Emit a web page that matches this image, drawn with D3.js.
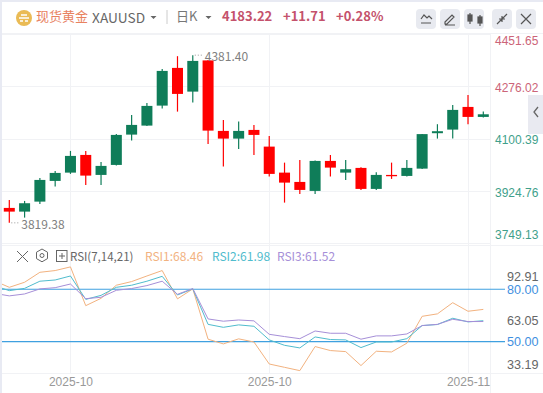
<!DOCTYPE html>
<html>
<head>
<meta charset="utf-8">
<script src="https://cdn.jsdelivr.net/npm/d3@7"></script>
<style>
html, body { margin: 0; padding: 0; background: #fff; overflow: hidden; }
svg { display: block; font-family: "Noto Sans CJK SC", "Noto Sans", sans-serif; }
</style>
</head>
<body>
<svg width="543" height="393"></svg>
<script>
// candles
var opens  = [3869.4,3857,3890.5,3959.9,3987.7,4047,3980,4013.5,4115.1,4145.3,4212.3,4338.7,4259.2,4363.8,4127.5,4101.7,4130.8,4074.9,3987.7,3956.5,3926.4,4026.9,3987.7,4003.5,3933.1,3980,3976.6,4001.1,4119.8,4131.9,4207.9,4174.4];
var highs  = [3896.2,3892.8,3969.9,3993.4,4060.4,4060.4,4023.6,4117.4,4181.1,4221.3,4335.3,4378,4381.4,4365.5,4164.4,4158.7,4147.6,4110.7,4021.2,4030.3,4028.6,4047,4030.3,4005.8,3989,4021.2,4030.3,4117.4,4150,4214.6,4248.2,4192.2];
var lows   = [3819.38,3836.9,3882.8,3940.8,3983.4,3946.5,3946.5,4011.2,4095,4144.2,4202.2,4192.2,4222.4,4083.9,4007.8,4067.2,4047,3974.3,3887.2,3916.3,3916.3,3974.3,3963.2,3929.7,3929.7,3966.6,3975,4000.1,4101.7,4101.7,4150,4172.7];
var closes = [3857,3885.1,3963.2,3986.7,4043.7,3977.7,4010.2,4114.1,4147.6,4211.3,4328.6,4251.5,4362.1,4128.5,4101.7,4127.5,4114.1,3983.4,3954.2,3929.7,4026.9,4004.5,3999.1,3933.1,3980,3975.6,4003.5,4116.8,4126.5,4197.9,4174.4,4183.22];

// RSI lines start one bar before the first visible candle
var rsi1 = [84.9,81.1,84,89.7,90.7,92.8,70.6,74.8,82.3,84.4,87.6,90.7,74.5,80.2,51.4,48.7,51.6,49.8,37.2,35.3,33.4,47.2,44.9,44.3,36.3,44.5,44.1,49.1,64.5,65.9,72.3,67.4,68.46];
var rsi2 = [82.1,79.2,80.5,84.6,85.3,87.6,74.2,76.5,81.1,82.3,84.6,87.4,76.7,80.2,59.9,58.2,59.6,58.8,51,47.9,46.4,52.7,51.2,51,46.6,49.8,49.8,51.7,59.2,59.8,63.4,61.3,61.98];
var rsi3 = [77.7,76.2,77.3,80.2,80.9,83,74.6,75.4,79.4,80.4,82.1,84.6,77.1,80.4,63,61.7,62.4,61.9,54.2,52.9,51.7,56.1,54.8,54.8,51.4,53.3,53.3,54.4,59.2,59.9,62.8,61.5,61.52];

var priceTicks = [4451.65,4276.02,4100.39,3924.76,3749.13];
var rsiTicks = [92.91,63.05,33.19];
var rsiLevels = [80,50];
var dateTicks = [4,17,30];
var dateLabels = ["2025-10","2025-10","2025-11"];

var green = "#0f7d59", red = "#ff0000";
var svg = d3.select("svg");

var x = d3.scaleLinear().domain([0, 31]).range([9.3, 483.3]);
var y = d3.scaleLinear().domain([3749.13, 4451.65]).range([243.8, 34.2]);
var yr = d3.scaleLinear().domain([33.19, 92.91]).range([371, 266.7]);

// page edge
svg.append("rect").attr("width", 543).attr("height", 393).attr("fill", "#fff");
svg.append("rect").attr("width", 2).attr("height", 393).attr("fill", "#e8eaf3");
svg.append("rect").attr("width", 543).attr("height", 2).attr("fill", "#e8eaf3");

// grid
var grid = svg.append("g").attr("stroke", "#f1f2f5").attr("stroke-width", 1).attr("shape-rendering", "crispEdges");
grid.selectAll(".h").data(priceTicks).enter().append("line").attr("x1", 2).attr("x2", 490)
    .attr("y1", function(d){ return y(d); }).attr("y2", function(d){ return y(d); });
grid.selectAll(".v").data(dateTicks).enter().append("line").attr("y1", 33).attr("y2", 373)
    .attr("x1", function(d){ return x(d); }).attr("x2", function(d){ return x(d); });
grid.append("line").attr("x1", 2).attr("x2", 543).attr("y1", 33).attr("y2", 33);
grid.append("line").attr("x1", 2).attr("x2", 543).attr("y1", 373).attr("y2", 373);
grid.append("line").attr("x1", 2).attr("x2", 543).attr("y1", 245).attr("y2", 245);
grid.append("line").attr("x1", 490).attr("x2", 490).attr("y1", 33).attr("y2", 393);

// candles
var c = svg.append("g").selectAll("g").data(d3.range(opens.length)).enter().append("g")
    .attr("fill", function(i){ return closes[i] >= opens[i] ? green : red; })
    .attr("stroke", function(i){ return closes[i] >= opens[i] ? green : red; });
c.append("line").attr("stroke-width", 1.2)
    .attr("x1", function(i){ return x(i); }).attr("x2", function(i){ return x(i); })
    .attr("y1", function(i){ return y(highs[i]); }).attr("y2", function(i){ return y(lows[i]); });
c.append("rect").attr("stroke", "none").attr("width", 11)
    .attr("x", function(i){ return x(i) - 5.5; })
    .attr("y", function(i){ return y(Math.max(opens[i], closes[i])); })
    .attr("height", function(i){ return Math.max(1, Math.abs(y(opens[i]) - y(closes[i]))); });

// high and low notes
var hi = d3.max(highs), lo = d3.min(lows);
var notes = [[highs.indexOf(hi), hi], [lows.indexOf(lo), lo]];
svg.append("g").selectAll("text").data(notes).enter().append("text")
    .attr("x", function(d){ return x(d[0]) + 12; })
    .attr("y", function(d){ return y(d[1]) + 6; })
    .attr("font-size", 12).attr("fill", "#808080")
    .text(function(d){ return d[1].toFixed(2); });
svg.append("g").selectAll("line").data(notes).enter().append("line")
    .attr("x1", function(d){ return x(d[0]) + 2; }).attr("x2", function(d){ return x(d[0]) + 11; })
    .attr("y1", function(d){ return y(d[1]); }).attr("y2", function(d){ return y(d[1]); })
    .attr("stroke", "#999").attr("stroke-dasharray", "1,2");

// side handle
svg.append("rect").attr("x", 528).attr("y", 95).attr("width", 15).attr("height", 39).attr("fill", "#e9eaf1");
svg.append("path").attr("d", "M538 107l-4 5 4 5").attr("fill", "none").attr("stroke", "#666").attr("stroke-width", 1.3);

// price axis, the labels at the ends sit inside the pane
var priceAxis = svg.append("g").attr("transform", "translate(490,0)")
    .call(d3.axisRight(y).tickValues(priceTicks).tickSize(0).tickPadding(5).tickFormat(d3.format(".2f")));
priceAxis.select(".domain").remove();
priceAxis.selectAll(".tick").attr("transform", function(d){
    return "translate(0," + Math.min(235, Math.max(41, y(d) + 1.5)) + ")";
});
priceAxis.selectAll("text").attr("font-family", "inherit").attr("font-size", 12)
    .attr("fill", function(d){ return d >= 4183.22 ? "#cc6478" : "#3f9f8b"; });

// RSI levels
svg.append("g").selectAll("line").data(rsiLevels).enter().append("line")
    .attr("x1", 2).attr("x2", 505)
    .attr("y1", function(d){ return yr(d); }).attr("y2", function(d){ return yr(d); })
    .attr("stroke", "#3fa0e0").attr("stroke-width", 1.2);

// RSI lines
var line = d3.line().x(function(d, i){ return x(i - 1); }).y(function(d){ return yr(d); });
svg.append("clipPath").attr("id", "pane").append("rect").attr("x", 2).attr("y", 245).attr("width", 488).attr("height", 128);
var rsiSeries = [[rsi1, "#f2b27f"], [rsi2, "#50bccd"], [rsi3, "#a68fd8"]];
svg.append("g").attr("clip-path", "url(#pane)").selectAll("path").data(rsiSeries).enter().append("path")
    .attr("d", function(d){ return line(d[0]); })
    .attr("fill", "none").attr("stroke", function(d){ return d[1]; }).attr("stroke-width", 1);

// RSI axis
var rsiAxis = svg.append("g").attr("transform", "translate(500,0)")
    .call(d3.axisRight(yr).tickValues(rsiTicks).tickSize(0).tickPadding(7).tickFormat(d3.format(".2f")));
rsiAxis.select(".domain").remove();
rsiAxis.selectAll(".tick").attr("transform", function(d){
    return "translate(0," + Math.min(365, Math.max(277, yr(d) + 2.5)) + ")";
});
rsiAxis.selectAll("text").attr("font-family", "inherit").attr("font-size", 12.6).attr("fill", "#666");
var levelAxis = svg.append("g").attr("transform", "translate(500,0)")
    .call(d3.axisRight(yr).tickValues(rsiLevels).tickSize(0).tickPadding(7).tickFormat(d3.format(".2f")));
levelAxis.select(".domain").remove();
levelAxis.selectAll("text").attr("font-family", "inherit").attr("font-size", 12.6).attr("fill", "#3f8fe0");

// date axis
var dateAxis = svg.append("g").attr("transform", "translate(0,374)")
    .call(d3.axisBottom(x).tickValues(dateTicks).tickSize(0).tickPadding(3)
        .tickFormat(function(d, i){ return dateLabels[i]; }));
dateAxis.select(".domain").remove();
dateAxis.selectAll("text").attr("font-family", "inherit").attr("font-size", 12).attr("fill", "#999");

// header
function label(tx, ty, str, size, fill, weight) {
    return svg.append("text").attr("x", tx).attr("y", ty).attr("font-size", size)
        .attr("fill", fill).attr("font-weight", weight || 400).text(str);
}
svg.append("circle").attr("cx", 24).attr("cy", 18).attr("r", 8).attr("fill", "#eabb55");
svg.append("path").attr("d", "M19 18h10M21 15h6M20 21h3M25 21h3").attr("stroke", "#fff").attr("stroke-width", 1.5);
label(36, 21, "现货黄金", 13, "#e8825f");
label(92, 23, "XAUUSD", 13.7, "#666");
label(176, 21, "日K", 13, "#777");
label(222, 21, "4183.22", 13, "#c4526c", 700);
label(283, 21, "+11.71", 13, "#c4526c", 700);
label(336, 21, "+0.28%", 13, "#c4526c", 700);
svg.append("path").attr("d", "M150.5 16h6l-3 3zM205.5 16h6l-3 3z").attr("fill", "#666");
svg.append("line").attr("x1", 167).attr("x2", 167).attr("y1", 10).attr("y2", 24).attr("stroke", "#ccc");

// toolbar buttons
var buttons = [416, 440, 464, 492, 516];
svg.append("g").selectAll("rect").data(buttons).enter().append("rect")
    .attr("x", function(d){ return d; }).attr("y", 9).attr("width", 20).attr("height", 20).attr("rx", 4)
    .attr("fill", "#e8eaf0");
var ic = svg.append("g").attr("fill", "none").attr("stroke", "#555").attr("stroke-width", 1.2);
ic.append("path").attr("d", "M421 19l3-4 3 3 2-2 3 3M421 23h10");
ic.append("path").attr("d", "M445 22l7-7 2 2-7 7h-2zM445 25h10");
ic.append("path").attr("d", "M470 13v11M480 15v11");
ic.append("rect").attr("x", 468).attr("y", 15).attr("width", 4).attr("height", 6).attr("fill", "#555");
ic.append("rect").attr("x", 478).attr("y", 17).attr("width", 4).attr("height", 6).attr("fill", "#555");
ic.append("path").attr("d", "M497 24l5-5M507 14l-5 5M499 19h3v3M505 19h-3v-3");
ic.append("path").attr("d", "M521 14l10 10M531 14l-10 10");

// RSI legend
var tools = svg.append("g").attr("fill", "none").attr("stroke", "#666").attr("stroke-width", 1);
tools.append("path").attr("d", "M17 251l11 11M28 251l-11 11");
tools.append("path").attr("d", "M42 249l5.5 3.2v6.4l-5.5 3.2-5.5-3.2v-6.4z");
tools.append("circle").attr("cx", 42).attr("cy", 255.5).attr("r", 2);
tools.append("rect").attr("x", 56.5).attr("y", 250.5).attr("width", 10.5).attr("height", 11);
tools.append("path").attr("d", "M59 256h6M62 253v6");
label(70, 261, "RSI(7,14,21)", 11.5, "#666");
label(145, 261, "RSI1:68.46", 12, "#f2b27f");
label(212, 261, "RSI2:61.98", 12, "#50bccd");
label(277, 261, "RSI3:61.52", 12, "#a68fd8");
</script>
</body>
</html>
